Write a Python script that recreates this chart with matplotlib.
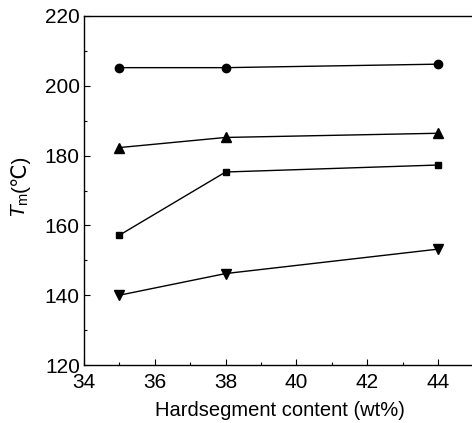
import numpy as np
from matplotlib import pyplot as plt
from matplotlib.ticker import MultipleLocator

plt.rcParams['font.family'] = ['Liberation Sans', 'DejaVu Sans']
plt.rcParams['mathtext.fontset'] = 'custom'
plt.rcParams['mathtext.it'] = 'Liberation Sans:italic'
plt.rcParams['mathtext.rm'] = 'Liberation Sans'

hard = [35, 38, 44]
tm_circle = [205.2, 205.2, 206.2]
tm_tri_up = [182.3, 185.2, 186.4]
tm_square = [157.2, 175.3, 177.3]
tm_tri_down = [140.0, 146.2, 153.2]

fig = plt.figure(figsize=(4.72, 4.23), dpi=100)
ax = fig.add_axes([84 / 472, 1 - 365 / 423, 1 - 84 / 472 + 0.01, 349 / 423])

style = dict(color='black', lw=1.0, clip_on=False)
ax.plot(hard, tm_circle, marker='o', ms=6, **style)
ax.plot(hard, tm_tri_up, marker='^', ms=6.5, **style)
ax.plot(hard, tm_square, marker='s', ms=5, **style)
ax.plot(hard, tm_tri_down, marker='v', ms=6.5, **style)

ax.set_xlim(34, 34 + (472 * 1.0 + 4.72 - 84) / 35.4)
ax.set_ylim(120, 220)
ax.spines['right'].set_visible(False)
for s in ['left', 'bottom', 'top']:
    ax.spines[s].set_linewidth(1.0)

ax.xaxis.set_major_locator(MultipleLocator(2))
ax.xaxis.set_minor_locator(MultipleLocator(1))
ax.yaxis.set_major_locator(MultipleLocator(20))
ax.yaxis.set_minor_locator(MultipleLocator(10))
ax.tick_params(which='both', direction='in', top=False, right=False, labelsize=15, width=0.8)
ax.tick_params(which='major', length=4)
ax.tick_params(axis='x', which='major', pad=6)
ax.tick_params(axis='y', which='major', pad=3)
ax.tick_params(which='minor', length=2)

ax.set_xlabel('Hardsegment content (wt%)', fontsize=14.5, labelpad=6)

# y label: italic T with subscript m, then the unit in a plain font that has ℃
t_sym = fig.text(20 / 472, 1 - 218 / 423, r'$T_{\mathrm{m}}$', rotation=90,
                 ha='center', va='bottom', fontsize=15)
ax.annotate('(℃)', xy=(0.5, 1.0), xycoords=t_sym, rotation=90,
            ha='center', va='bottom', fontsize=15,
            family=['Liberation Sans', 'DejaVu Sans'])

fig.savefig('out.png', dpi=100)
